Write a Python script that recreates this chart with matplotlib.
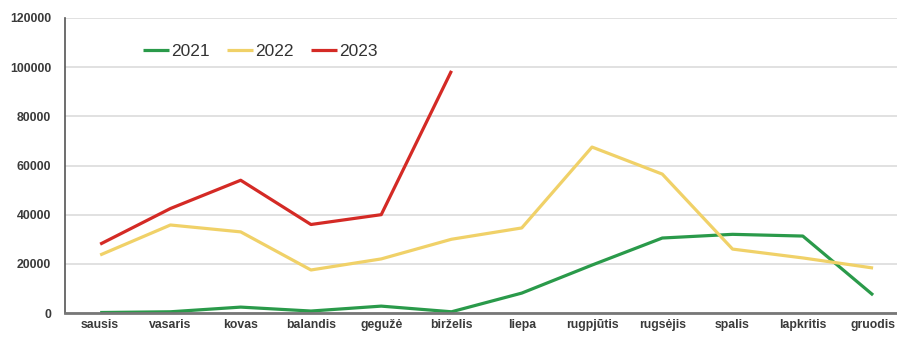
import matplotlib
matplotlib.use("Agg")
import matplotlib.pyplot as plt

plt.rcParams['font.family'] = ['Liberation Sans', 'DejaVu Sans']

months = ['sausis', 'vasaris', 'kovas', 'balandis', 'gegužė', 'birželis',
          'liepa', 'rugpjūtis', 'rugsėjis', 'spalis', 'lapkritis', 'gruodis']
y2021 = [200, 500, 2400, 800, 2800, 500, 8100, 19500, 30500, 32000, 31300, 7300]
y2022 = [23600, 35800, 33000, 17500, 22000, 30000, 34600, 67500, 56500, 26000, 22400, 18300]
y2023 = [28000, 42500, 54000, 36000, 40000, 98500]

fig = plt.figure(figsize=(8.97, 3.37), dpi=100)
ax = fig.add_axes([0.0725, 0.0712, 0.94, 0.8754])

x = list(range(len(months)))
ax.plot(x, y2021, color='#2a9a4a', lw=2.3, label='2021', solid_capstyle='butt')
ax.plot(x, y2022, color='#f0d168', lw=2.3, label='2022', solid_capstyle='butt')
ax.plot(x[:len(y2023)], y2023, color='#d42a25', lw=2.3, label='2023', solid_capstyle='butt')

ax.set_xlim(-0.5, 11.5)
ax.set_ylim(0, 120000)
ax.set_yticks(range(0, 120001, 20000))
ax.set_xticks(x)
ax.set_xticklabels(months)
ax.grid(axis='y', color='#dcdcdc', lw=1.2)
ax.set_axisbelow(True)
for s in ['top', 'right']:
    ax.spines[s].set_visible(False)
ax.spines['left'].set_color('#555555')
ax.spines['left'].set_linewidth(1.2)
ax.spines['bottom'].set_color('#777777')
ax.spines['bottom'].set_linewidth(2)
ax.tick_params(length=0, labelsize=8.8, colors='#3a3a3a')
ax.tick_params(axis='y', pad=10)
ax.tick_params(axis='x', pad=4)
for t in ax.get_xticklabels() + ax.get_yticklabels():
    t.set_fontweight('bold')

ax.legend(loc='center left', bbox_to_anchor=(0.093, 0.885), ncol=3, frameon=False,
          fontsize=12.5, handlelength=1.5, handletextpad=0.1, columnspacing=1.0,
          labelcolor='#333333', borderpad=0, borderaxespad=0)

fig.savefig('out.png', dpi=100)
